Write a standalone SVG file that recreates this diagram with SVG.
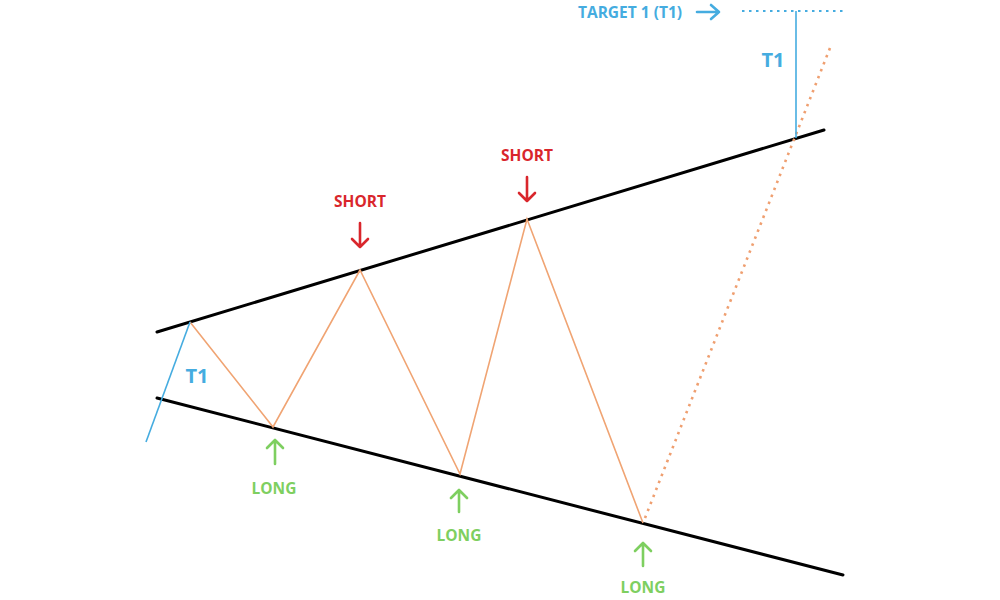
<svg xmlns="http://www.w3.org/2000/svg" width="1000" height="600" viewBox="0 0 1000 600">
<style>
.bnd{stroke:#000;stroke-width:3;fill:none;stroke-linecap:round}
.zz{stroke:#f0a473;stroke-width:1.6;fill:none;stroke-linejoin:miter}
.dotor{stroke:#ef9f70;stroke-width:2.6;fill:none;stroke-dasharray:2.5 5}
.blue{stroke:#45ace0;stroke-width:1.6;fill:none}
.dotbl{stroke:#45ace0;stroke-width:2;fill:none;stroke-dasharray:2.5 4.5}
.lbl{font-family:"Open Sans","Liberation Sans",sans-serif;font-weight:700;font-size:15.5px;text-anchor:middle}
.red{fill:#d9262c}
.grn{fill:#7ecf60}
.bt{fill:#45ace0}
.arr{fill:none;stroke-width:2.6;stroke-linecap:round;stroke-linejoin:round}
.ar{stroke:#d9262c}
.ag{stroke:#7ecf60}
.ab{stroke:#45ace0}
</style>
<rect width="1000" height="600" fill="#fff"/>
<g id="connectors">
<line class="bnd" x1="157" y1="332" x2="824" y2="130"/>
<line class="bnd" x1="157" y1="398" x2="843" y2="575"/>
<polyline class="zz" points="190,322 273,427 360,270 460,474 527,219 643,523"/>
<line class="dotor" x1="645" y1="518" x2="830" y2="48"/>
<line class="blue" x1="190" y1="322" x2="146" y2="442"/>
<line class="blue" x1="796" y1="11" x2="796" y2="138"/>
<line class="dotbl" x1="742" y1="11" x2="846" y2="11"/>
</g>
<g id="target">
<text class="lbl bt" x="630" y="18">TARGET 1 (T1)</text>
<path class="arr ab" d="M697 12 H719 M711 5 L719 12 L711 19"/>
</g>
<g id="t1-right"><text class="lbl bt" x="773" y="67" style="font-size:20px">T1</text></g>
<g id="t1-left"><text class="lbl bt" x="197" y="383" style="font-size:20px">T1</text></g>
<g id="short1">
<text class="lbl red" x="360" y="207">SHORT</text>
<path class="arr ar" d="M360 223 V247 M352 239 L360 247 L368 239"/>
</g>
<g id="short2">
<text class="lbl red" x="527" y="161">SHORT</text>
<path class="arr ar" d="M527 177 V201 M519 193 L527 201 L535 193"/>
</g>
<g id="long1">
<path class="arr ag" d="M275 464 V440 M267 448 L275 440 L283 448"/>
<text class="lbl grn" x="274" y="494">LONG</text>
</g>
<g id="long2">
<path class="arr ag" d="M459 512 V490 M451 498 L459 490 L467 498"/>
<text class="lbl grn" x="459" y="541">LONG</text>
</g>
<g id="long3">
<path class="arr ag" d="M643 566 V543 M635 551 L643 543 L651 551"/>
<text class="lbl grn" x="643" y="593">LONG</text>
</g>
</svg>
